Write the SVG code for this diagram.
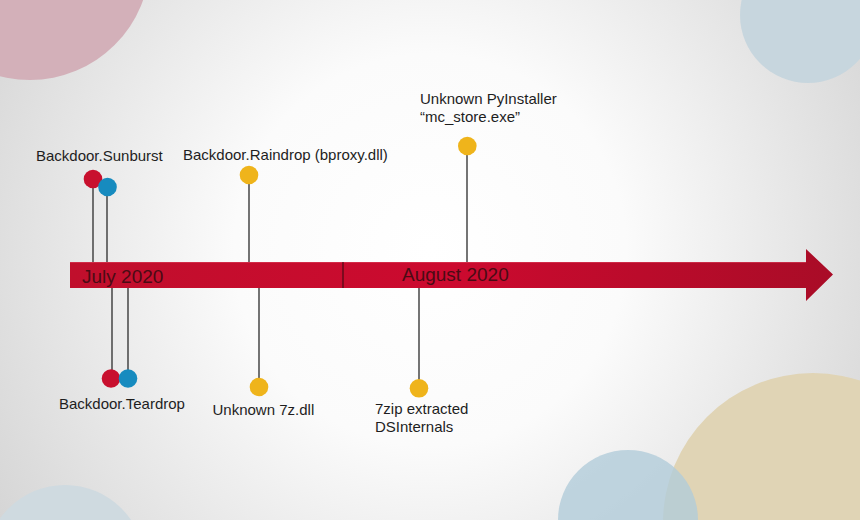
<svg xmlns="http://www.w3.org/2000/svg" width="860" height="520" viewBox="0 0 860 520">
  <defs>
    <radialGradient id="bg" cx="430" cy="250" r="560" gradientUnits="userSpaceOnUse">
      <stop offset="0" stop-color="#ffffff"/>
      <stop offset="0.35" stop-color="#fbfbfb"/>
      <stop offset="1" stop-color="#cfcfcf"/>
    </radialGradient>
    <linearGradient id="barGrad" x1="70" y1="0" x2="834" y2="0" gradientUnits="userSpaceOnUse">
      <stop offset="0" stop-color="#c00f2c"/>
      <stop offset="0.5" stop-color="#cc0a2f"/>
      <stop offset="1" stop-color="#a90c27"/>
    </linearGradient>
    <style>
      .lbl { font-family: "Liberation Sans", Arial, sans-serif; font-size: 15px; fill: #1e1e1e; }
      .month { font-family: "Liberation Sans", Arial, sans-serif; font-size: 19px; fill: #4a0b14; }
      .stem { stroke: #3a3a3a; stroke-width: 1.4; fill: none; }
      .red { fill: #c8102e; }
      .blue { fill: #178bbf; }
      .yellow { fill: #efb41b; }
    </style>
  </defs>

  <!-- background -->
  <rect x="0" y="0" width="860" height="520" fill="url(#bg)"/>
  <g id="decor">
    <circle cx="30" cy="-40" r="120" fill="#d3b0b9"/>
    <ellipse cx="808" cy="15" rx="68" ry="68" fill="#c7d6de"/>
    <circle cx="813" cy="523" r="150" fill="#e0d4b5"/>
    <circle cx="628" cy="520" r="70" fill="#b2ccd9" fill-opacity="0.8"/>
    <circle cx="65" cy="565" r="80" fill="#cfdae0"/>
  </g>

  <!-- timeline -->
  <g id="timeline">
    <path d="M70,262 L806,262 L806,249 L833,274.5 L806,301 L806,288 L70,288 Z" fill="url(#barGrad)"/>
    <line x1="70" y1="262.5" x2="806" y2="262.5" stroke="#e04a62" stroke-width="1" stroke-opacity="0.5"/>
    <line x1="343" y1="262" x2="343" y2="288" stroke="#4a0b14" stroke-width="1.2"/>
    <text class="month" x="82" y="283">July 2020</text>
    <text class="month" x="402" y="281">August 2020</text>
  </g>

  <!-- connectors -->
  <g id="connectors">
    <line class="stem" x1="93" y1="179" x2="93" y2="262"/>
    <line class="stem" x1="107" y1="187" x2="107" y2="262"/>
    <line class="stem" x1="112" y1="288" x2="112" y2="378"/>
    <line class="stem" x1="128" y1="288" x2="128" y2="378"/>
    <line class="stem" x1="249" y1="175" x2="249" y2="262"/>
    <line class="stem" x1="259" y1="288" x2="259" y2="387"/>
    <line class="stem" x1="467" y1="146" x2="467" y2="262"/>
    <line class="stem" x1="419" y1="288" x2="419" y2="388"/>
  </g>

  <!-- nodes -->
  <g id="sunburst">
    <circle class="red" cx="93" cy="179" r="9.3"/>
    <circle class="blue" cx="107.5" cy="187" r="9.3"/>
    <text class="lbl" x="36" y="161">Backdoor.Sunburst</text>
  </g>
  <g id="teardrop">
    <circle class="red" cx="111" cy="378.5" r="9.3"/>
    <circle class="blue" cx="128" cy="378.5" r="9.3"/>
    <text class="lbl" x="59" y="408.5">Backdoor.Teardrop</text>
  </g>
  <g id="raindrop">
    <circle class="yellow" cx="249" cy="175" r="9.3"/>
    <text class="lbl" x="183" y="159.5">Backdoor.Raindrop (bproxy.dll)</text>
  </g>
  <g id="sevenzdll">
    <circle class="yellow" cx="259" cy="387" r="9.3"/>
    <text class="lbl" x="212.5" y="415">Unknown 7z.dll</text>
  </g>
  <g id="pyinstaller">
    <circle class="yellow" cx="467.3" cy="146" r="9.3"/>
    <text class="lbl" x="420" y="104">Unknown PyInstaller</text>
    <text class="lbl" x="420" y="122">“mc_store.exe”</text>
  </g>
  <g id="dsinternals">
    <circle class="yellow" cx="419" cy="388.3" r="9.3"/>
    <text class="lbl" x="375" y="413.5">7zip extracted</text>
    <text class="lbl" x="375" y="431.5">DSInternals</text>
  </g>
</svg>
